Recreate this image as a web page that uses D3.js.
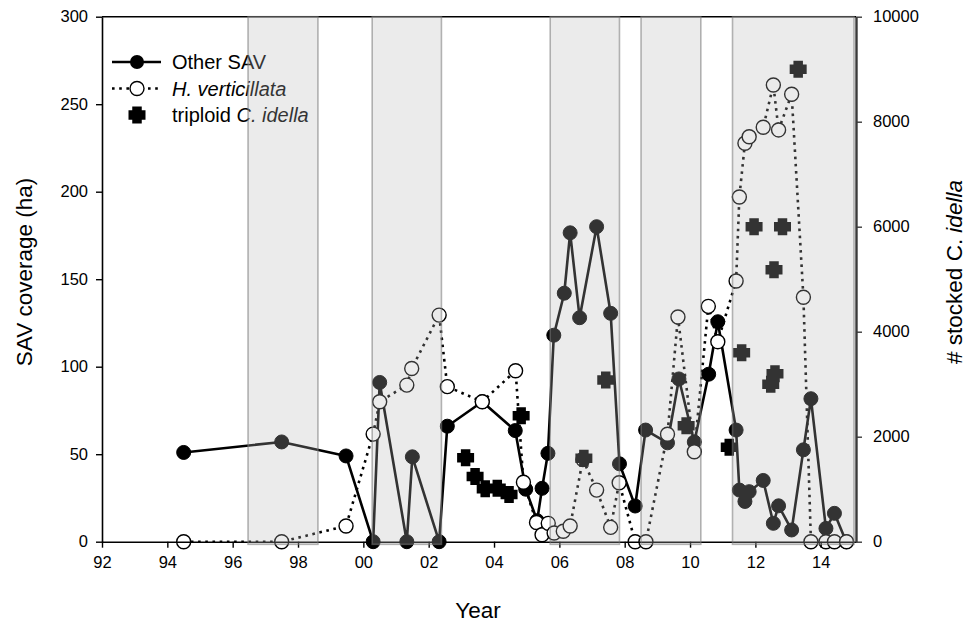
<!DOCTYPE html>
<html>
<head>
<meta charset="utf-8">
<script src="https://cdn.jsdelivr.net/npm/d3@7"></script>
<style>
  html, body { margin: 0; padding: 0; background: #fff; }
  svg { display: block; font-family: "Liberation Sans", Arial, sans-serif; }
</style>
</head>
<body>
<svg id="chart" width="970" height="626"></svg>
<script>
// Other SAV coverage (ha)
const otherYears = [1994.5, 1997.5, 1999.47, 2000.3, 2000.5, 2001.33, 2001.5, 2002.32, 2002.57, 2003.64,
  2004.65, 2004.97, 2005.32, 2005.47, 2005.65, 2005.83, 2006.15, 2006.33, 2006.62, 2007.14,
  2007.57, 2007.84, 2008.32, 2008.64, 2009.31, 2009.66, 2010.13, 2010.57, 2010.85, 2011.41,
  2011.51, 2011.68, 2011.81, 2012.24, 2012.55, 2012.71, 2013.11, 2013.47, 2013.7, 2014.16,
  2014.42, 2014.78];
const otherValues = [51, 57, 49, 0, 91, 0, 48.5, 0, 66, 80,
  63.5, 30, 12, 30.5, 50.5, 118, 142, 176.5, 128, 180,
  130.5, 44.5, 20.4, 63.8, 56.5, 93, 57, 95.7, 125.7, 63.8,
  29.5, 23, 28.6, 35, 10.5, 20.5, 6.7, 52.5, 81.7, 7.6,
  16.2, 0];

// H. verticillata coverage (ha)
const hvYears = [1994.5, 1997.5, 1999.47, 2000.3, 2000.5, 2001.33, 2001.48, 2002.32, 2002.57, 2003.64,
  2004.66, 2004.9, 2005.3, 2005.47, 2005.66, 2005.84, 2006.12, 2006.33, 2006.72, 2007.14,
  2007.57, 2007.83, 2008.32, 2008.65, 2009.31, 2009.63, 2010.13, 2010.56, 2010.85, 2011.41,
  2011.51, 2011.68, 2011.81, 2012.24, 2012.55, 2012.71, 2013.11, 2013.47, 2013.7, 2014.16,
  2014.42, 2014.79];
const hvValues = [0, 0, 9, 61.5, 80, 89.5, 99, 129.5, 88.6, 80,
  97.7, 34, 11, 4, 10.5, 5, 6, 9, 47, 29.5,
  8.2, 33.7, 0, 0, 61.4, 128.4, 51.4, 134.5, 114.3, 149,
  197, 227.7, 231.4, 236.8, 261, 235.3, 255.7, 139.7, 0, 0,
  0, 0];

// Stocked triploid C. idella (number of fish)
const fishYears = [2003.13, 2003.42, 2003.73, 2004.1, 2004.46, 2004.83, 2006.75, 2007.42, 2009.88, 2011.2,
  2011.58, 2011.96, 2012.47, 2012.57, 2012.6, 2012.83, 2013.31];
const fishCounts = [1600, 1240, 1010, 1020, 900, 2400, 1590, 3080, 2210, 1800,
  3600, 6000, 3000, 5180, 3200, 6000, 9000];

// Shaded periods (start, end)
const bandStarts = [1996.47, 2000.27, 2005.72, 2008.5, 2011.3];
const bandEnds = [1998.61, 2002.39, 2007.84, 2010.33, 2015.02];

// Axis ticks
const xTickYears = [1992, 1994, 1996, 1998, 2000, 2002, 2004, 2006, 2008, 2010, 2012, 2014];
const xTickLabels = ["92", "94", "96", "98", "00", "02", "04", "06", "08", "10", "12", "14"];
const yTicks = [0, 50, 100, 150, 200, 250, 300];
const y2Ticks = [0, 2000, 4000, 6000, 8000, 10000];

const svg = d3.select("#chart");
const plotLeft = 102, plotRight = 856, plotTop = 16.7, plotBottom = 541.7;

const x = d3.scaleLinear().domain([1992, 2015.08]).range([plotLeft, plotRight]);
const y = d3.scaleLinear().domain([0, 300]).range([plotBottom, plotTop]);
const y2 = d3.scaleLinear().domain([0, 10000]).range([plotBottom, plotTop]);

const R = 7;
// Thick plus used for the stocking markers
function crossPath(w, t) {
  const a = w / 2, b = t / 2;
  return `M${-b},${-a}H${b}V${-b}H${a}V${b}H${b}V${a}H${-b}V${b}H${-a}V${-b}H${-b}Z`;
}
const crossD = crossPath(17, 9.5);

const plot = svg.append("g");

// Other SAV: solid line with filled circles
const otherPts = otherYears.map((d, i) => [d, otherValues[i]]);
const line = d3.line().x(d => x(d[0])).y(d => y(d[1]));
plot.append("path").datum(otherPts)
  .attr("d", line).attr("fill", "none")
  .attr("stroke", "#000").attr("stroke-width", 2.6).attr("stroke-linejoin", "round");
plot.append("g").selectAll("circle").data(otherPts).join("circle")
  .attr("cx", d => x(d[0])).attr("cy", d => y(d[1])).attr("r", R)
  .attr("fill", "#000").attr("stroke", "#000").attr("stroke-width", 1);

// H. verticillata: dotted line with open circles
const hvPts = hvYears.map((d, i) => [d, hvValues[i]]);
plot.append("path").datum(hvPts)
  .attr("d", line).attr("fill", "none")
  .attr("stroke", "#000").attr("stroke-width", 2.6).attr("stroke-dasharray", "2.6 4.6");
plot.append("g").selectAll("circle").data(hvPts).join("circle")
  .attr("cx", d => x(d[0])).attr("cy", d => y(d[1])).attr("r", R)
  .attr("fill", "#fff").attr("stroke", "#000").attr("stroke-width", 1.4);

// Stocked fish on the right axis
const fishPts = fishYears.map((d, i) => [d, fishCounts[i]]);
plot.append("g").selectAll("path").data(fishPts).join("path")
  .attr("d", crossD)
  .attr("transform", d => `translate(${x(d[0])},${y2(d[1])})`)
  .attr("fill", "#000");

// Axes
const axisFont = 16.5;
const gx = svg.append("g").attr("transform", `translate(0,${plotBottom})`)
  .call(d3.axisBottom(x).tickValues(xTickYears)
    .tickFormat((d, i) => xTickLabels[i]).tickSize(6).tickSizeOuter(0).tickPadding(9));
const gy = svg.append("g").attr("transform", `translate(${plotLeft},0)`)
  .call(d3.axisLeft(y).tickValues(yTicks).tickSize(6).tickSizeOuter(0).tickPadding(8));
const gy2 = svg.append("g").attr("transform", `translate(${plotRight},0)`)
  .call(d3.axisRight(y2).tickValues(y2Ticks).tickFormat(d3.format("d"))
    .tickSize(6).tickSizeOuter(0).tickPadding(11));

[gx, gy].forEach(g => {
  g.select(".domain").attr("stroke", "#000").attr("stroke-width", 1.6);
  g.selectAll(".tick line").attr("stroke", "#000").attr("stroke-width", 1.4);
});
gy2.select(".domain").attr("stroke", "#3a3a3a").attr("stroke-width", 2.4);
gy2.selectAll(".tick line").attr("stroke", "#3a3a3a").attr("stroke-width", 1.4);
[gx, gy, gy2].forEach(g => {
  g.selectAll(".tick text").attr("font-size", axisFont).attr("fill", "#000")
    .attr("font-family", "'Liberation Sans', Arial, sans-serif");
});

// Top frame line
svg.append("line").attr("x1", plotLeft).attr("x2", plotRight).attr("y1", plotTop).attr("y2", plotTop)
  .attr("stroke", "#000").attr("stroke-width", 1.6);

// Axis titles
const titleFont = 22.5;
const midY = 272;
svg.append("text").attr("x", 478).attr("y", 618)
  .attr("text-anchor", "middle").attr("font-size", titleFont).text("Year");
svg.append("text").attr("transform", `translate(32,${midY}) rotate(-90)`)
  .attr("text-anchor", "middle").attr("font-size", titleFont).text("SAV coverage (ha)");
const t2 = svg.append("text").attr("transform", `translate(962,${midY}) rotate(-90)`)
  .attr("text-anchor", "middle").attr("font-size", titleFont);
t2.append("tspan").text("# stocked C. ");
t2.append("tspan").attr("font-style", "italic").text("idella");

// Legend
const lg = svg.append("g");
const lx0 = 112, lx1 = 161, lmx = 137, ltx = 172;
const rows = [62, 88.5, 115];
const lgFont = 20;
lg.append("line").attr("x1", lx0).attr("x2", lx1).attr("y1", rows[0]).attr("y2", rows[0])
  .attr("stroke", "#000").attr("stroke-width", 2.6);
lg.append("circle").attr("cx", lmx).attr("cy", rows[0]).attr("r", R).attr("fill", "#000");
lg.append("text").attr("x", ltx).attr("y", rows[0]).attr("dy", "0.35em")
  .attr("font-size", lgFont).text("Other SAV");

lg.append("line").attr("x1", lx0).attr("x2", lx1).attr("y1", rows[1]).attr("y2", rows[1])
  .attr("stroke", "#000").attr("stroke-width", 2.6).attr("stroke-dasharray", "2.6 4.6");
lg.append("circle").attr("cx", lmx).attr("cy", rows[1]).attr("r", R)
  .attr("fill", "#fff").attr("stroke", "#000").attr("stroke-width", 1.4);
lg.append("text").attr("x", ltx).attr("y", rows[1]).attr("dy", "0.35em")
  .attr("font-size", lgFont).attr("font-style", "italic").text("H. verticillata");

lg.append("path").attr("d", crossD).attr("transform", `translate(${lmx},${rows[2]})`).attr("fill", "#000");
const t3 = lg.append("text").attr("x", ltx).attr("y", rows[2]).attr("dy", "0.35em").attr("font-size", lgFont);
t3.append("tspan").text("triploid ");
t3.append("tspan").attr("font-style", "italic").text("C. idella");

// Shaded periods, laid over the data as a translucent veil
svg.append("g").selectAll("rect").data(bandStarts.map((s, i) => [s, bandEnds[i]])).join("rect")
  .attr("x", d => x(d[0])).attr("width", d => x(d[1]) - x(d[0]))
  .attr("y", plotTop).attr("height", y(-1.5) - plotTop)
  .attr("fill", "rgba(183,183,183,0.28)")
  .attr("stroke", "rgba(120,120,120,0.55)").attr("stroke-width", 1.6);
</script>
</body>
</html>
